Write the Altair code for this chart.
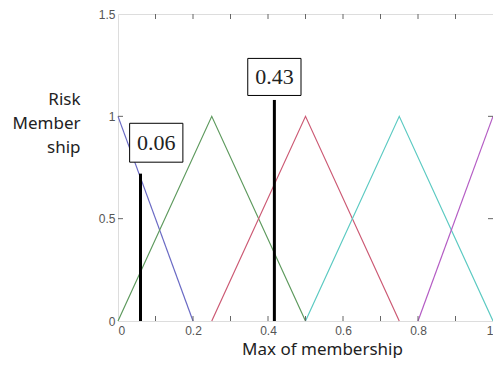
import altair as alt
import pandas as pd

# membership functions (x, y) per fuzzy set
set_names = ["s1", "s2", "s3", "s4", "s5"]
set_x = [[0, 0.2], [0, 0.25, 0.5], [0.25, 0.5, 0.75], [0.5, 0.75, 1.0], [0.8, 1.0]]
set_y = [[1, 0], [0, 1, 0], [0, 1, 0], [0, 1, 0], [0, 1]]
set_colors = ["#6a6ac4", "#5e9a5e", "#cc5a74", "#5ccac2", "#b45cc4"]

# vertical markers
marker_x = [0.06, 0.417]
marker_top = [0.72, 1.08]

# annotation boxes
box_text = ["0.06", "0.43"]
box_x1 = [0.031, 0.346]
box_x2 = [0.173, 0.488]
box_y1 = [0.776, 1.102]
box_y2 = [0.966, 1.283]

x_ticks = [round(i * 0.1, 1) for i in range(11)]
y_ticks = [0, 0.5, 1, 1.5]

W, H = 375, 307

rows = []
for n, xs, ys in zip(set_names, set_x, set_y):
    for i, (a, b) in enumerate(zip(xs, ys)):
        rows.append({"set": n, "x": a, "y": b, "o": i})
df = pd.DataFrame(rows)
mk = pd.DataFrame({"x": marker_x, "top": marker_top, "zero": [0, 0]})
bx = pd.DataFrame({"t": box_text, "x1": box_x1, "x2": box_x2, "y1": box_y1, "y2": box_y2})
bx["xc"] = (bx.x1 + bx.x2) / 2
bx["yc"] = (bx.y1 + bx.y2) / 2
xt = pd.DataFrame({"x": x_ticks[1:-1]})
yt = pd.DataFrame({"y": y_ticks[1:-1]})

xs = alt.Scale(domain=[0, 1], nice=False)
ys = alt.Scale(domain=[0, 1.5], nice=False)

xaxis = alt.Axis(values=x_ticks, format="~g", ticks=False, domain=False, grid=False,
                 labelColor="#555555", labelFontSize=12, labelFont="Liberation Sans",
                 labelPadding=4, title="Max of membership", titleFont="Noto Sans",
                 titleFontSize=17, titleFontWeight="normal", titleColor="#222222",
                 titleX=204, titleAlign="center", titleY=33, titleBaseline="alphabetic")
yaxis = alt.Axis(values=y_ticks, format="~g", ticks=False, domain=False, grid=False,
                 labelColor="#555555", labelFontSize=12, labelFont="Liberation Sans",
                 labelPadding=3, title=["Risk", "Member", "ship"], titleFont="Noto Sans",
                 titleFontSize=17, titleFontWeight="normal", titleColor="#222222",
                 titleAngle=0, titleAlign="right", titleBaseline="top",
                 titleX=-38, titleY=77, titleLineHeight=24)

lines = alt.Chart(df).mark_line(strokeWidth=1.2).encode(
    x=alt.X("x:Q", scale=xs, axis=xaxis),
    y=alt.Y("y:Q", scale=ys, axis=yaxis),
    color=alt.Color("set:N", scale=alt.Scale(domain=set_names, range=set_colors), legend=None),
    order="o:Q",
)

markers = alt.Chart(mk).mark_rule(color="black", strokeWidth=3).encode(
    x=alt.X("x:Q", scale=xs), y=alt.Y("zero:Q", scale=ys), y2="top:Q")

boxes = alt.Chart(bx).mark_rect(fill="white", stroke="black", strokeWidth=1).encode(
    x=alt.X("x1:Q", scale=xs), x2="x2:Q", y=alt.Y("y1:Q", scale=ys), y2="y2:Q")

texts = alt.Chart(bx).mark_text(font="Liberation Serif", fontSize=22, color="#222222").encode(
    x=alt.X("xc:Q", scale=xs), y=alt.Y("yc:Q", scale=ys), text="t:N")

tick_style = dict(color="#666666", strokeWidth=1)
bt = alt.Chart(xt).mark_rule(**tick_style).encode(
    x=alt.X("x:Q", scale=xs), y=alt.value(H), y2=alt.value(H - 5))
tt = alt.Chart(xt).mark_rule(**tick_style).encode(
    x=alt.X("x:Q", scale=xs), y=alt.value(0), y2=alt.value(5))
lt = alt.Chart(yt).mark_rule(**tick_style).encode(
    y=alt.Y("y:Q", scale=ys), x=alt.value(0), x2=alt.value(5))
rt = alt.Chart(yt).mark_rule(**tick_style).encode(
    y=alt.Y("y:Q", scale=ys), x=alt.value(W - 5), x2=alt.value(W))

chart = alt.layer(lines, markers, boxes, texts, bt, tt, lt, rt).properties(
    width=W, height=H,
    autosize=alt.AutoSizeParams(type="none"),
    padding={"left": 110, "top": 6, "right": 0, "bottom": 37},
).configure_view(stroke="#707070", strokeWidth=1).configure(background="white")

chart.save("out.html", embed_options={"renderer": "svg", "actions": False})
